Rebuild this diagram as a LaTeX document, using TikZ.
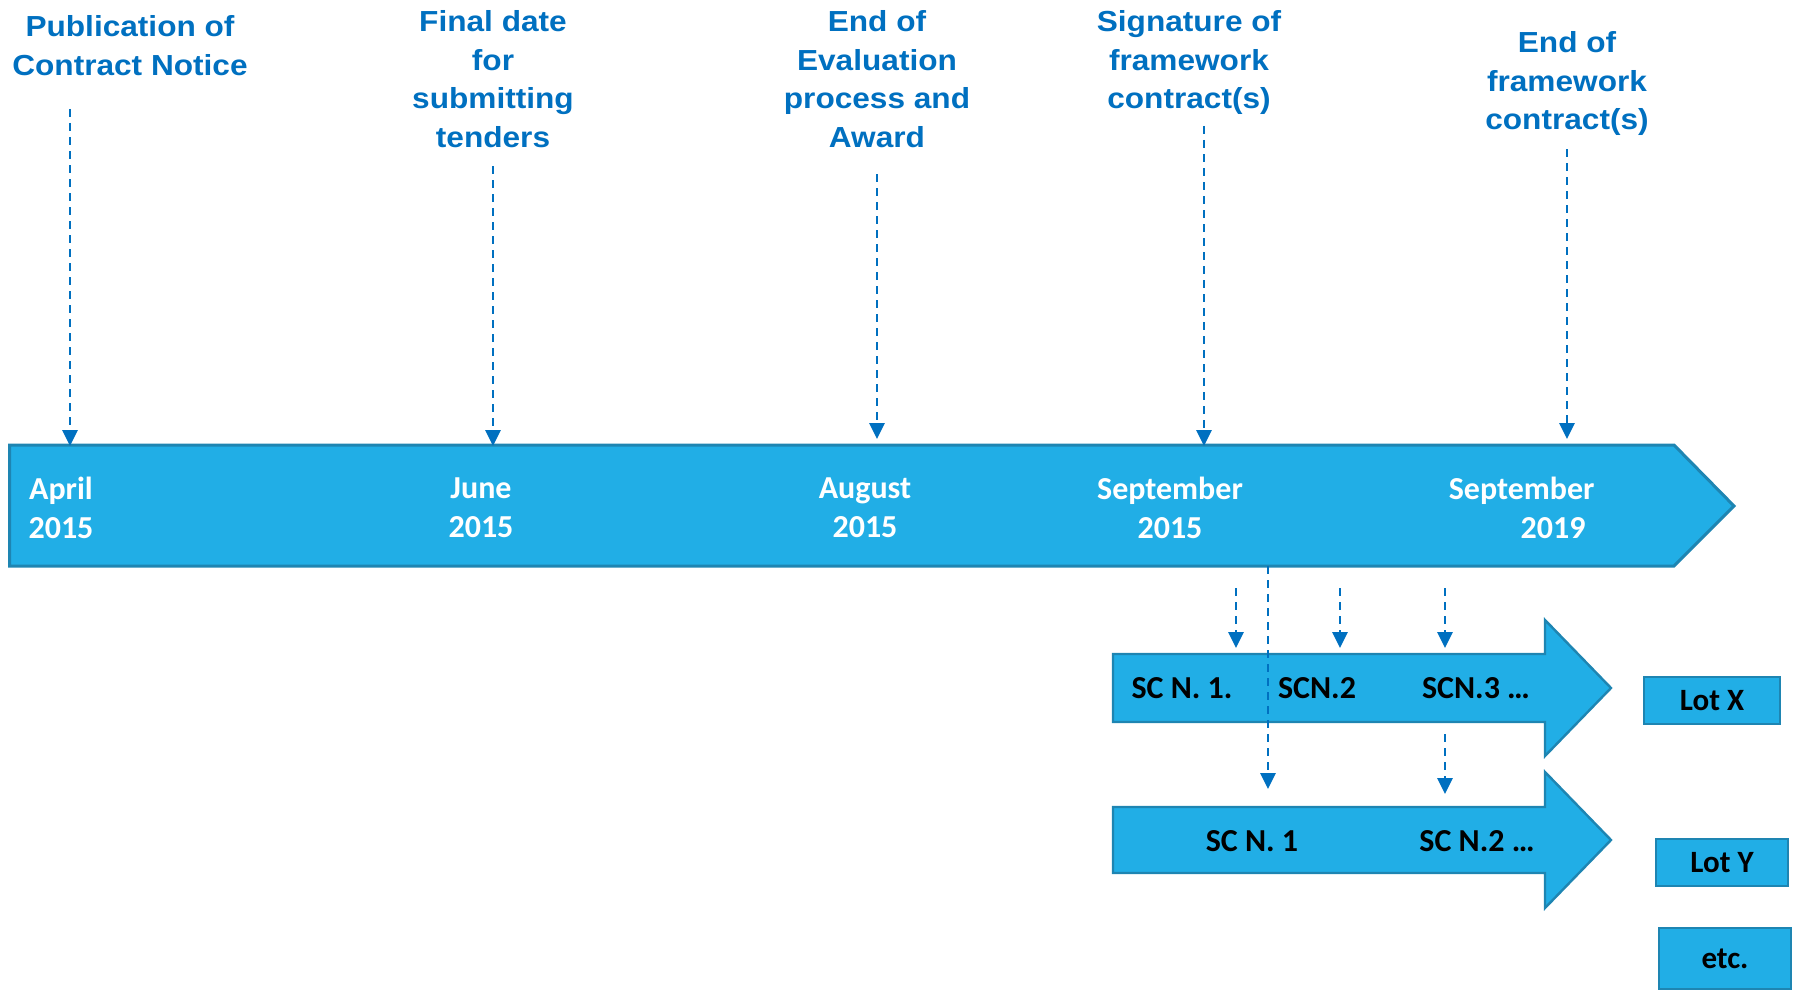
\documentclass[tikz,border=0pt]{standalone}
\usepackage{fontspec}
\newfontfamily\labelfont{Liberation Sans}[FakeStretch=1.09]
\newfontfamily\datefont{Carlito}
\usetikzlibrary{arrows.meta, positioning}
\definecolor{tlcyan}{RGB}{33,174,230}
\definecolor{tlborder}{RGB}{30,133,178}
\definecolor{tlblue}{RGB}{0,112,192}

\begin{document}
\begin{tikzpicture}[
                x=0.5pt, y=-0.5pt,
                event/.style={align=center, inner sep=0pt, anchor=north, text=tlblue, font=\labelfont\bfseries\fontsize{14.5}{19.3}\selectfont},
                date/.style={align=center, inner sep=0pt, anchor=north, text=white, font=\datefont\bfseries\fontsize{16}{19.5}\selectfont},
                sc/.style={inner sep=0pt, text=black, font=\datefont\bfseries\fontsize{16}{19}\selectfont},
                band/.style={draw=tlborder, line width=1.5pt, fill=tlcyan},
                subband/.style={draw=tlborder, line width=1.2pt, fill=tlcyan},
                lot/.style={draw=tlborder, line width=1.2pt, fill=tlcyan, inner sep=0pt, minimum width=66pt, minimum height=23.5pt, font=\datefont\bfseries\fontsize{15.5}{19}\selectfont},
                dasharrow/.style={-{Triangle[width=7.5pt, length=8pt]}, dash pattern=on 4pt off 3pt, line width=1.4pt, color=tlblue}
            ]
                \useasboundingbox (0,0) rectangle (1798,990);

                % Linha do tempo
                \draw[band] (9.5,445) -- (1674,445) -- (1734,506) -- (1674,566) -- (9.5,566) -- cycle;
                \node[date] (apr) at (61,477) {April\\2015};
                \node[date] (jun) at (481,477) {June\\2015};
                \node[date] (aug) at (865,477) {August\\2015};
                \node[date] (sep15) at (1170,477) {September\\2015};
                \node[date, align=right, anchor=north east] (sep19) at (1595,477) {September\\2019\kern4.5pt};

                % Eventos
                \node[event] (pub) at (130,15) {Publication of\\Contract Notice};
                \node[event] (final) at (493,10) {Final date\\for\\submitting\\tenders};
                \node[event] (award) at (877,10) {End of\\Evaluation\\process and\\Award};
                \node[event] (sign) at (1189,10) {Signature of\\framework\\contract(s)};
                \node[event] (endfw) at (1567,31) {End of\\framework\\contract(s)};

                \coordinate (pubS) at (70,109);    \coordinate (pubE) at (70,446);
                \coordinate (finalS) at (493,166); \coordinate (finalE) at (493,446);
                \coordinate (awardS) at (877,174); \coordinate (awardE) at (877,439);
                \coordinate (signS) at (1204,126); \coordinate (signE) at (1204,446);
                \coordinate (endfwS) at (1567,149); \coordinate (endfwE) at (1567,439);

                \draw[dasharrow] (pubS) -- (pubE);
                \draw[dasharrow] (finalS) -- (finalE);
                \draw[dasharrow] (awardS) -- (awardE);
                \draw[dasharrow] (signS) -- (signE);
                \draw[dasharrow] (endfwS) -- (endfwE);

                % Contratos especificos
                \draw[subband] (1113,654) -- (1545,654) -- (1545,620) -- (1611,688) -- (1545,756) -- (1545,722) -- (1113,722) -- cycle;
                \draw[subband] (1113,807) -- (1545,807) -- (1545,772) -- (1611,840) -- (1545,908) -- (1545,873) -- (1113,873) -- cycle;

                \node[sc] (xa) at (1182,688) {SC N. 1.};
                \node[sc] (xb) at (1317,688) {SCN.2};
                \node[sc] (xc) at (1476,688) {SCN.3 …};
                \node[sc] (ya) at (1252,841) {SC N. 1};
                \node[sc] (yb) at (1477,841) {SC N.2 …};

                \coordinate (xaS) at (1236,588); \coordinate (xaE) at (1236,648);
                \coordinate (xbS) at (1340,588); \coordinate (xbE) at (1340,648);
                \coordinate (xcS) at (1445,588); \coordinate (xcE) at (1445,648);
                \coordinate (yaS) at (1268,566); \coordinate (yaE) at (1268,789);
                \coordinate (ybS) at (1445,734); \coordinate (ybE) at (1445,794);

                \draw[dasharrow] (xaS) -- (xaE);
                \draw[dasharrow] (xbS) -- (xbE);
                \draw[dasharrow] (xcS) -- (xcE);
                \draw[dasharrow] (yaS) -- (yaE);
                \draw[dasharrow] (ybS) -- (ybE);

                % Lotes
                \node[lot, minimum width=68pt] (lotx) at (1712,700.5) {Lot X};
                \node[lot] (loty) at (1722,862.5) {Lot Y};
                \node[lot, minimum height=30.5pt] (etc) at (1725,958.5) {etc.};
            \end{tikzpicture}
\end{document}
